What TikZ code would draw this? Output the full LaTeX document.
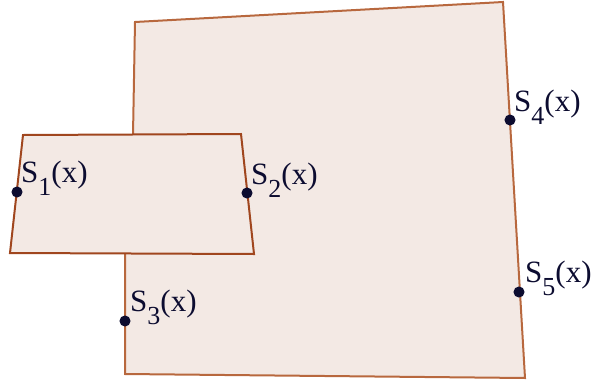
\documentclass[tikz,border=0pt]{standalone}
\usepackage{fontspec}
\setmainfont{Liberation Serif}
\definecolor{regfill}{RGB}{243,233,228}
\definecolor{bigedge}{RGB}{184,104,62}
\definecolor{smalledge}{RGB}{160,70,30}
\definecolor{labtext}{RGB}{12,12,48}
\newcommand{\lowsub}[1]{\raisebox{-0.42em}{\fontsize{26}{26}\selectfont #1}}
\tikzset{
  region/.style={fill=regfill,line width=2pt,line join=miter},
  ptdot/.style={circle,fill=labtext,draw=labtext,line width=1pt,inner sep=0pt,minimum size=10pt},
  ptlabel/.style={anchor=base west,inner sep=0pt,text=labtext,font=\fontsize{31}{31}\selectfont}
}
\begin{document}
\begin{tikzpicture}[x=1pt,y=-1pt]
\useasboundingbox (0,0) rectangle (592,383);
% big region
\coordinate (B1) at (135,22);
\coordinate (B2) at (503,2);
\coordinate (B3) at (525,378);
\coordinate (B4) at (125,374);
\coordinate (B5) at (125,254);
\coordinate (B6) at (133,135);
\draw[region,draw=bigedge] (B1) -- (B2) -- (B3) -- (B4) -- (B5) -- (B6) -- cycle;
% small region
\coordinate (A1) at (23,135);
\coordinate (A2) at (241,134);
\coordinate (A3) at (254,254);
\coordinate (A4) at (10,253);
\draw[region,draw=smalledge] (A1) -- (A2) -- (A3) -- (A4) -- cycle;
% points
\node[ptdot] (s1) at (17,192) {};
\node[ptdot] (s2) at (247,193) {};
\node[ptdot] (s3) at (125,321) {};
\node[ptdot] (s4) at (510,120) {};
\node[ptdot] (s5) at (519,292) {};
% labels
\node[ptlabel] (l1) at (21,182) {S\lowsub{1}(x)};
\node[ptlabel] (l2) at (251,184) {S\lowsub{2}(x)};
\node[ptlabel] (l3) at (130,311) {S\lowsub{3}(x)};
\node[ptlabel] (l4) at (514,111) {S\lowsub{4}(x)};
\node[ptlabel] (l5) at (525,282) {S\lowsub{5}(x)};
\end{tikzpicture}
\end{document}
